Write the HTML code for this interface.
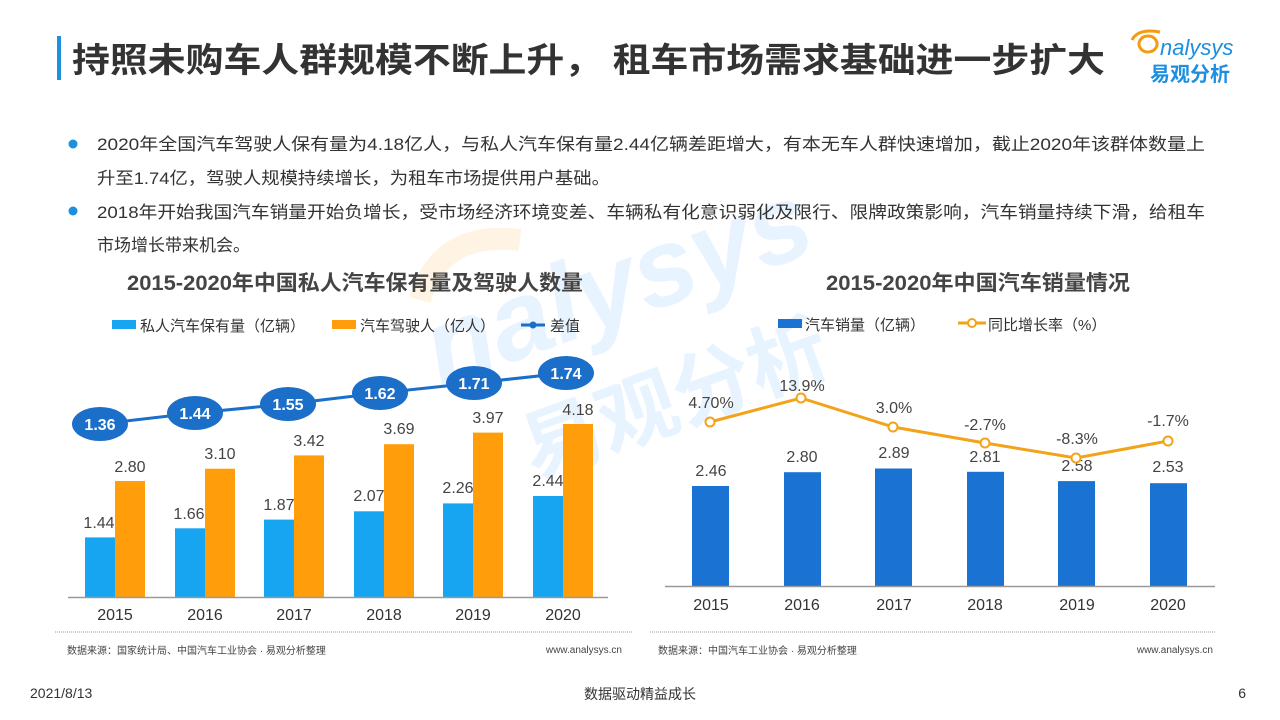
<!DOCTYPE html>
<html><head><meta charset="utf-8"><style>
html,body{margin:0;padding:0;background:#fff;}
svg{display:block;font-family:"Liberation Sans","Noto Sans CJK SC",sans-serif;}
</style></head><body>
<svg width="1280" height="720" viewBox="0 0 1280 720" xmlns="http://www.w3.org/2000/svg">
<!-- watermark -->
<g opacity="0.1">
<text x="430" y="330" font-size="110" fill="#1e90ff" font-style="italic" font-weight="bold" transform="rotate(-20 600 330)">nalysys</text>
<text x="520" y="440" font-size="80" fill="#1e90ff" font-weight="bold" transform="rotate(-20 640 420)">易观分析</text>
<path d="M420 300 Q440 230 520 240" stroke="#ff9900" stroke-width="22" fill="none"/>
</g>
<!-- title -->
<rect x="57" y="36" width="4" height="44" fill="#1c8fe0"/>
<text x="72" y="72" font-size="34" font-weight="bold" fill="#333" textLength="1033" lengthAdjust="spacingAndGlyphs">持照未购车人群规模不断上升， 租车市场需求基础进一步扩大</text>
<!-- logo -->
<path d="M1132 40 Q1138 28 1160 32 M1148 52 a9 8 0 1 1 0.1 0" stroke="#f39c12" stroke-width="3" fill="none"/>
<text x="1160" y="55" font-size="22" fill="#1c8fe0" font-style="italic">nalysys</text>
<text x="1150" y="81" font-size="20" font-weight="bold" fill="#1c8fe0">易观分析</text>
<!-- bullets -->
<g font-size="17" fill="#333">
<circle cx="73" cy="144" r="4.5" fill="#1c8fe0"/>
<text x="97" y="150" textLength="1108" lengthAdjust="spacingAndGlyphs">2020年全国汽车驾驶人保有量为4.18亿人，与私人汽车保有量2.44亿辆差距增大，有本无车人群快速增加，截止2020年该群体数量上</text>
<text x="97" y="184" textLength="513" lengthAdjust="spacingAndGlyphs">升至1.74亿，驾驶人规模持续增长，为租车市场提供用户基础。</text>
<circle cx="73" cy="211" r="4.5" fill="#1c8fe0"/>
<text x="97" y="218" textLength="1108" lengthAdjust="spacingAndGlyphs">2018年开始我国汽车销量开始负增长，受市场经济环境变差、车辆私有化意识弱化及限行、限牌政策影响，汽车销量持续下滑，给租车</text>
<text x="97" y="251">市场增长带来机会。</text>
</g>
<!-- left chart -->
<text x="127" y="290" font-size="21" font-weight="bold" fill="#444" textLength="456" lengthAdjust="spacingAndGlyphs">2015-2020年中国私人汽车保有量及驾驶人数量</text>
<g font-size="15" fill="#333">
<rect x="112" y="320" width="24" height="9" fill="#17a5f2"/><text x="140" y="331">私人汽车保有量（亿辆）</text>
<rect x="332" y="320" width="24" height="9" fill="#ff9d0a"/><text x="360" y="331">汽车驾驶人（亿人）</text>
<line x1="521" y1="325" x2="545" y2="325" stroke="#1b6fc9" stroke-width="3"/><circle cx="533" cy="325" r="3.5" fill="#1b6fc9"/><text x="550" y="331">差值</text>
</g>
<g>
<rect x="85" y="537.4" width="30" height="59.6" fill="#17a5f2"/><rect x="115" y="481" width="30" height="116" fill="#ff9d0a"/>
<rect x="175" y="528.3" width="30" height="68.7" fill="#17a5f2"/><rect x="205" y="468.7" width="30" height="128.3" fill="#ff9d0a"/>
<rect x="264" y="519.6" width="30" height="77.4" fill="#17a5f2"/><rect x="294" y="455.4" width="30" height="141.6" fill="#ff9d0a"/>
<rect x="354" y="511.3" width="30" height="85.7" fill="#17a5f2"/><rect x="384" y="444.2" width="30" height="152.8" fill="#ff9d0a"/>
<rect x="443" y="503.4" width="30" height="93.6" fill="#17a5f2"/><rect x="473" y="432.6" width="30" height="164.4" fill="#ff9d0a"/>
<rect x="533" y="496" width="30" height="101" fill="#17a5f2"/><rect x="563" y="424" width="30" height="173" fill="#ff9d0a"/>
</g>
<line x1="68" y1="597.5" x2="608" y2="597.5" stroke="#999" stroke-width="1.5"/>
<g font-size="16" fill="#444" text-anchor="middle">
<text x="99" y="528">1.44</text><text x="130" y="472">2.80</text>
<text x="189" y="519">1.66</text><text x="220" y="459">3.10</text>
<text x="279" y="510">1.87</text><text x="309" y="446">3.42</text>
<text x="369" y="501">2.07</text><text x="399" y="434">3.69</text>
<text x="458" y="493">2.26</text><text x="488" y="423">3.97</text>
<text x="548" y="486">2.44</text><text x="578" y="415">4.18</text>
</g>
<g font-size="16" fill="#333" text-anchor="middle">
<text x="115" y="620">2015</text><text x="205" y="620">2016</text><text x="294" y="620">2017</text><text x="384" y="620">2018</text><text x="473" y="620">2019</text><text x="563" y="620">2020</text>
</g>
<polyline points="100,424 195,413 288,404 380,393 474,383 566,373" fill="none" stroke="#1b6fc9" stroke-width="3"/>
<g fill="#1b6fc9">
<ellipse cx="100" cy="424" rx="28" ry="17"/><ellipse cx="195" cy="413" rx="28" ry="17"/><ellipse cx="288" cy="404" rx="28" ry="17"/>
<ellipse cx="380" cy="393" rx="28" ry="17"/><ellipse cx="474" cy="383" rx="28" ry="17"/><ellipse cx="566" cy="373" rx="28" ry="17"/>
</g>
<g font-size="16" font-weight="bold" fill="#fff" text-anchor="middle">
<text x="100" y="430">1.36</text><text x="195" y="419">1.44</text><text x="288" y="410">1.55</text><text x="380" y="399">1.62</text><text x="474" y="389">1.71</text><text x="566" y="379">1.74</text>
</g>
<line x1="55" y1="632" x2="632" y2="632" stroke="#bbb" stroke-width="1.5" stroke-dasharray="1,1"/>
<text x="67" y="654" font-size="10" fill="#444">数据来源：国家统计局、中国汽车工业协会 · 易观分析整理</text>
<text x="622" y="653" font-size="10" fill="#444" text-anchor="end">www.analysys.cn</text>
<!-- right chart -->
<text x="826" y="290" font-size="21" font-weight="bold" fill="#444" textLength="304" lengthAdjust="spacingAndGlyphs">2015-2020年中国汽车销量情况</text>
<g font-size="15" fill="#333">
<rect x="778" y="319" width="24" height="9" fill="#1a72d2"/><text x="805" y="330">汽车销量（亿辆）</text>
<line x1="958" y1="323" x2="986" y2="323" stroke="#f3a31a" stroke-width="3"/><circle cx="972" cy="323" r="4" fill="#fff" stroke="#f3a31a" stroke-width="2"/><text x="988" y="330">同比增长率（%）</text>
</g>
<g fill="#1a72d2">
<rect x="692" y="486" width="37" height="100"/>
<rect x="784" y="472.2" width="37" height="113.8"/>
<rect x="875" y="468.5" width="37" height="117.5"/>
<rect x="967" y="471.8" width="37" height="114.2"/>
<rect x="1058" y="481.1" width="37" height="104.9"/>
<rect x="1150" y="483.2" width="37" height="102.8"/>
</g>
<line x1="665" y1="586.5" x2="1215" y2="586.5" stroke="#999" stroke-width="1.5"/>
<g font-size="16" fill="#444" text-anchor="middle">
<text x="711" y="476">2.46</text><text x="802" y="462">2.80</text><text x="894" y="458">2.89</text>
<text x="985" y="462">2.81</text><text x="1077" y="471">2.58</text><text x="1168" y="472">2.53</text>
</g>
<polyline points="710,422 801,398 893,427 985,443 1076,458 1168,441" fill="none" stroke="#f3a31a" stroke-width="3"/>
<g fill="#fff" stroke="#f3a31a" stroke-width="2">
<circle cx="710" cy="422" r="4.5"/><circle cx="801" cy="398" r="4.5"/><circle cx="893" cy="427" r="4.5"/>
<circle cx="985" cy="443" r="4.5"/><circle cx="1076" cy="458" r="4.5"/><circle cx="1168" cy="441" r="4.5"/>
</g>
<g font-size="16" fill="#444" text-anchor="middle">
<text x="711" y="408">4.70%</text><text x="802" y="391">13.9%</text><text x="894" y="413">3.0%</text>
<text x="985" y="430">-2.7%</text><text x="1077" y="444">-8.3%</text><text x="1168" y="426">-1.7%</text>
</g>
<g font-size="16" fill="#333" text-anchor="middle">
<text x="711" y="610">2015</text><text x="802" y="610">2016</text><text x="894" y="610">2017</text><text x="985" y="610">2018</text><text x="1077" y="610">2019</text><text x="1168" y="610">2020</text>
</g>
<line x1="650" y1="632" x2="1215" y2="632" stroke="#bbb" stroke-width="1.5" stroke-dasharray="1,1"/>
<text x="658" y="654" font-size="10" fill="#444">数据来源：中国汽车工业协会 · 易观分析整理</text>
<text x="1213" y="653" font-size="10" fill="#444" text-anchor="end">www.analysys.cn</text>
<!-- footer -->
<text x="30" y="698" font-size="14" fill="#333">2021/8/13</text>
<text x="640" y="699" font-size="14" fill="#333" text-anchor="middle">数据驱动精益成长</text>
<text x="1246" y="698" font-size="14" fill="#333" text-anchor="end">6</text>
</svg>
</body></html>
